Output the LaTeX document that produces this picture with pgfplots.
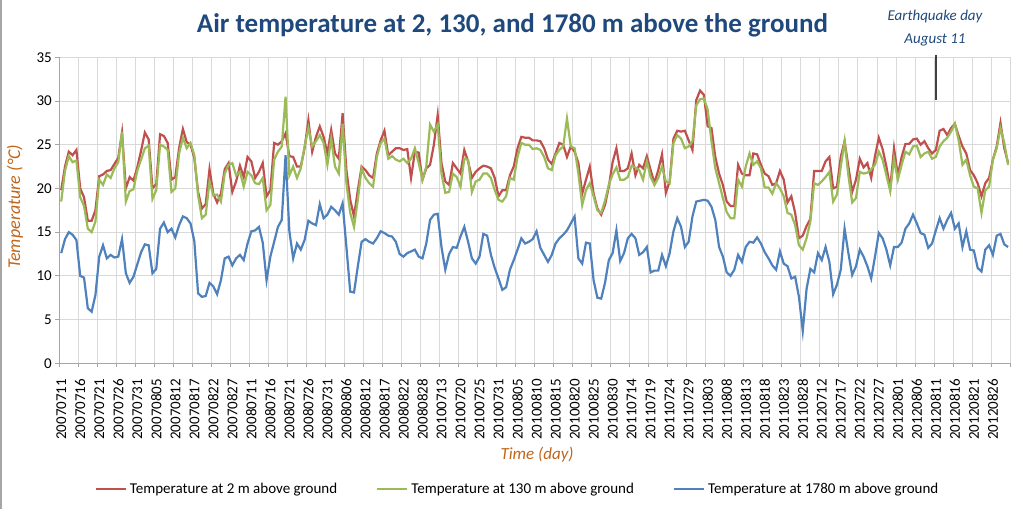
\documentclass[border=0pt]{standalone}
\usepackage{pgfplots}
\usepackage{pgfplotstable}
\usepackage{fontspec}
\setmainfont{Carlito}
\pgfplotsset{compat=1.18}
\definecolor{cred}{HTML}{C0504D}
\definecolor{cgreen}{HTML}{9BBB59}
\definecolor{cblue}{HTML}{4F81BD}
\definecolor{ctitle}{HTML}{1F497D}
\definecolor{clabel}{HTML}{C0661A}
\definecolor{cgrid}{HTML}{D9D9D9}
\definecolor{caxis}{HTML}{A6A6A6}

\pgfplotstableread{
r g b
19.8 18.5 12.6
22.5 22.0 14.2
24.2 23.7 15.0
23.8 23.0 14.7
24.4 23.2 14.1
20.0 19.0 10.0
19.0 18.0 9.8
16.3 15.4 6.3
16.3 15.0 5.9
17.5 16.2 7.8
21.4 21.0 12.2
21.6 20.4 13.5
22.0 21.6 12.0
22.1 21.2 12.4
22.8 22.3 12.1
23.5 23.0 12.2
26.4 26.5 14.2
20.0 18.5 10.3
21.3 19.7 9.2
20.9 19.9 9.9
22.4 22.0 11.3
24.3 23.3 12.7
26.4 24.6 13.6
25.6 24.9 13.5
20.0 18.8 10.3
20.5 19.8 10.8
26.2 25.0 15.4
26.0 24.8 16.1
25.2 24.4 15.0
21.0 19.6 15.4
21.3 20.0 14.4
24.6 24.0 15.8
26.8 25.8 16.8
25.3 24.6 16.6
25.0 25.2 16.0
23.5 23.8 14.0
19.6 19.2 8.0
17.7 16.6 7.6
18.2 17.0 7.7
22.2 20.8 9.2
19.4 19.2 8.8
18.4 19.3 7.9
19.4 18.5 9.5
22.2 21.7 12.0
22.9 22.7 12.2
19.6 22.9 11.2
20.8 21.5 12.0
22.6 21.9 12.4
21.3 20.2 11.8
23.6 21.9 13.7
23.1 21.5 15.1
21.2 20.6 15.2
21.9 20.5 15.6
22.9 21.2 13.8
19.1 17.5 9.5
19.8 18.1 12.2
25.2 23.3 13.9
25.0 24.2 15.6
25.4 24.8 16.4
26.3 30.5 23.8
23.7 21.5 15.1
23.6 22.5 12.0
22.5 21.2 13.7
22.5 22.3 13.0
24.6 24.8 14.1
27.8 26.9 16.3
24.2 24.8 16.0
25.9 25.4 15.8
27.1 26.1 18.2
25.9 25.2 16.6
24.0 22.7 17.0
26.7 25.7 17.9
24.0 22.5 17.5
23.4 21.7 17.0
28.6 27.4 18.3
22.1 20.6 13.3
18.7 17.2 8.2
16.8 15.6 8.1
19.8 18.7 11.1
22.5 22.3 13.9
22.1 21.2 14.2
21.5 20.6 13.9
21.2 20.2 13.7
24.0 23.6 14.3
25.5 25.2 15.1
26.6 25.7 14.9
23.8 23.4 14.6
24.2 23.7 14.5
24.6 23.3 13.9
24.6 23.1 12.5
24.4 23.4 12.2
24.5 22.9 12.6
21.2 23.4 12.8
24.2 24.6 13.0
24.1 22.9 12.2
21.0 21.0 12.0
22.3 22.5 13.7
22.7 27.3 16.4
25.0 26.5 17.0
28.4 27.3 17.1
22.9 21.7 13.3
20.8 19.5 10.7
20.4 19.6 12.5
22.9 21.7 13.3
22.3 21.3 13.2
21.7 20.2 14.5
24.4 23.4 15.6
23.1 23.3 13.9
21.2 19.6 12.0
21.9 20.8 11.4
22.3 21.0 12.2
22.6 21.7 14.8
22.5 21.7 14.6
22.3 21.2 12.4
21.2 19.8 10.9
19.1 18.7 9.7
19.8 18.5 8.4
19.8 19.1 8.7
21.5 21.2 10.7
22.5 21.0 11.8
24.6 23.6 13.0
25.9 25.2 14.3
25.8 25.0 13.7
25.8 25.0 13.9
25.5 24.5 14.2
25.5 24.6 15.1
25.4 24.4 13.2
24.6 23.6 12.4
23.3 22.3 11.6
22.8 22.1 12.4
24.0 23.8 13.7
25.2 24.4 14.3
25.0 24.8 14.7
23.6 28.0 15.2
24.8 24.8 16.0
24.2 24.6 16.8
22.9 21.7 12.0
19.4 18.1 11.4
21.0 19.8 13.8
22.5 20.6 13.7
19.4 19.1 9.5
17.7 17.5 7.5
17.0 17.2 7.4
18.1 18.6 9.2
20.2 20.4 11.8
23.0 21.6 12.6
24.6 22.4 15.2
22.0 21.0 11.7
22.0 21.0 12.6
22.3 21.3 14.3
24.0 22.6 14.8
21.5 22.4 14.3
22.7 22.1 12.4
22.3 21.0 12.7
23.7 23.1 13.3
22.1 21.3 10.4
20.6 20.4 10.6
22.1 21.2 10.6
23.9 22.5 12.4
19.5 20.8 11.1
20.8 20.6 12.6
25.7 25.2 15.1
26.6 26.1 16.6
26.5 25.7 15.6
26.6 24.6 13.3
25.5 24.8 13.9
24.4 25.4 16.8
30.1 29.5 18.5
31.2 30.2 18.6
30.7 30.3 18.7
27.1 29.0 18.6
26.9 25.4 17.9
23.6 22.3 16.4
21.7 20.6 13.3
20.4 18.9 12.2
18.5 17.3 10.4
18.0 16.6 10.0
18.0 16.6 10.7
22.7 21.0 12.4
21.7 20.2 11.6
21.5 22.5 13.3
21.5 24.0 13.9
24.0 22.7 13.8
23.9 23.1 14.4
22.7 22.3 13.7
21.7 20.1 12.7
21.4 20.1 12.0
20.4 19.4 11.2
20.6 20.6 10.7
22.0 20.0 12.8
21.0 19.1 11.4
18.4 17.2 11.1
19.1 17.0 9.7
17.2 15.8 9.9
14.3 13.5 7.6
14.6 13.0 3.7
15.7 14.3 8.5
16.5 16.2 10.8
22.0 20.6 10.4
22.0 20.4 12.6
22.0 20.8 11.8
23.1 21.3 13.3
23.6 21.9 11.6
20.0 18.5 7.9
20.2 19.3 9.0
23.6 22.5 10.7
25.4 25.4 15.4
22.5 21.5 12.6
19.6 18.4 10.1
21.0 18.9 11.1
23.4 21.9 13.0
22.4 21.7 12.2
22.9 21.8 11.1
21.2 22.2 9.7
23.7 22.7 12.2
25.8 24.2 14.9
24.5 23.3 14.3
22.5 21.5 13.0
20.0 19.7 11.2
24.6 23.4 13.3
21.5 21.0 13.3
23.6 22.7 13.8
25.1 24.2 15.4
25.1 23.9 16.0
25.6 24.8 17.0
25.7 24.9 16.0
25.0 23.6 14.9
25.4 24.0 14.7
24.6 24.2 13.2
24.0 23.4 13.7
24.4 23.6 15.2
26.6 24.8 16.6
26.8 25.4 15.4
26.1 25.8 16.4
26.9 26.5 17.2
27.4 27.4 15.4
26.0 25.5 16.0
24.8 22.7 13.3
24.0 23.3 15.1
22.1 21.5 13.0
21.5 20.2 12.9
20.6 20.0 10.9
19.1 17.2 10.5
20.6 19.8 13.0
21.2 20.2 13.5
23.3 23.3 12.4
24.8 24.6 14.6
27.5 26.9 14.8
24.6 25.2 13.6
22.9 22.7 13.3
}\tdata

\begin{document}
\begin{tikzpicture}[x=1pt,y=1pt]
\path[use as bounding box] (0,0) rectangle (1023,517);
\draw[black!35, line width=1.5pt] (0.75,517) -- (0.75,8);
\node[font=\fontsize{27}{30}\selectfont\bfseries, text=ctitle] at (512.5,492) {Air temperature at 2, 130, and 1780 m above the ground};
\node[font=\fontsize{15}{17}\selectfont\itshape, text=ctitle] at (935,500) {Earthquake day};
\node[font=\fontsize{15}{17}\selectfont\itshape, text=ctitle] at (935,477) {August 11};
\begin{axis}[
  at={(59.3pt,153.7pt)}, anchor=south west,
  scale only axis, width=950.7pt, height=306pt,
  xmin=-0.5, xmax=249.5, ymin=0, ymax=35,
  axis lines*=left,
  axis line style={draw=caxis, line width=0.8pt},
  clip=false,
  tick align=outside,
  xtick={0,5,...,245},
  xticklabels={20070711,20070716,20070721,20070726,20070731,20070805,20070812,20070817,20070822,20070827,
    20080711,20080716,20080721,20080726,20080731,20080806,20080812,20080817,20080822,20080828,
    20100713,20100720,20100725,20100731,20100805,20100810,20100815,20100820,20100825,20100830,
    20110714,20110719,20110724,20110729,20110803,20110808,20110813,20110818,20110823,20110828,
    20120712,20120717,20120722,20120727,20120801,20120806,20120811,20120816,20120821,20120826},
  major x tick style={draw=none},
  minor xtick={-0.5,4.5,...,249.5},
  minor tick length=4pt,
  minor x tick style={draw=caxis, line width=0.8pt},
  xminorgrids,
  minor x grid style={draw=cgrid, line width=0.8pt},
  xticklabel style={rotate=90, anchor=east, font=\fontsize{15}{15}\selectfont, yshift=0pt, xshift=-8pt},
  ytick={0,5,...,35},
  ymajorgrids,
  major y grid style={draw=cgrid, line width=0.8pt},
  major tick length=4pt,
  y tick style={draw=caxis, line width=0.8pt},
  yticklabel style={font=\fontsize{15}{15}\selectfont, text=black},
  /pgf/number format/assume math mode=true,
  every axis y label/.style={at={(axis description cs:-0.0466,0.511)}, rotate=90, anchor=center,
    font=\fontsize{18}{20}\selectfont\itshape, text=clabel},
  ylabel={Temperature (°C)},
  every axis x label/.style={at={(axis description cs:0.5025,-0.2997)}, anchor=center,
    font=\fontsize{17}{20}\selectfont\itshape, text=clabel},
  xlabel={Time (day)},
  legend columns=3,
  legend style={at={(axis description cs:0.4814,-0.411)}, anchor=center, draw=none, fill=none,
    font=\fontsize{15}{18}\selectfont, nodes={inner sep=1pt},
    /tikz/every odd column/.style={column sep=2pt},
    /tikz/every even column/.style={column sep=38pt}},
  legend image code/.code={\draw[#1] (0pt,0pt) -- (30pt,0pt);},
]
\addplot[cred, line width=2.2pt] table[x expr=\coordindex, y=r]{\tdata};
\addlegendentry{Temperature at 2 m above ground}
\addplot[cgreen, line width=2.2pt] table[x expr=\coordindex, y=g]{\tdata};
\addlegendentry{Temperature at 130 m above ground}
\addplot[cblue, line width=2.2pt] table[x expr=\coordindex, y=b]{\tdata};
\addlegendentry{Temperature at 1780 m above ground}
\draw[line width=1.5pt, black!75] (axis cs:230,35.3) -- (axis cs:230,30.1);
\end{axis}
\end{tikzpicture}
\end{document}
